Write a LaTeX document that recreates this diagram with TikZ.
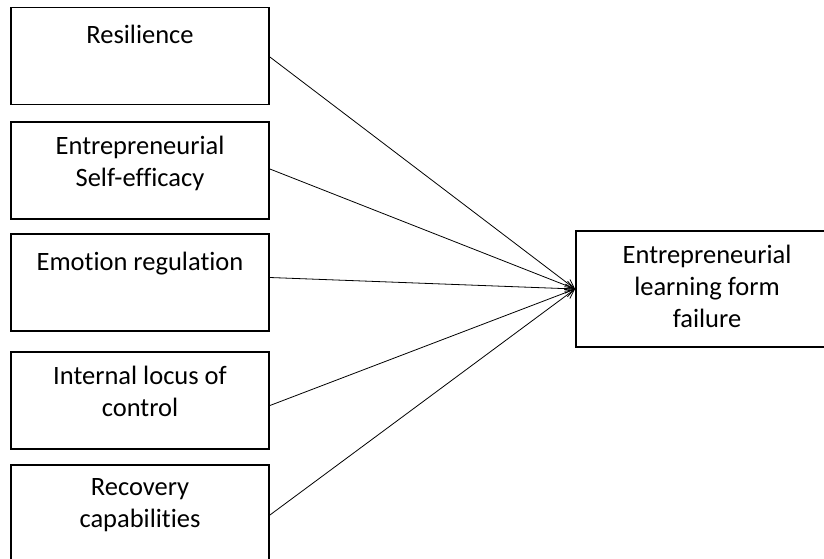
\documentclass[tikz,border=0pt]{standalone}
\usepackage{fontspec}
\setmainfont{Carlito}[Ligatures=NoCommon]
\usetikzlibrary{arrows.meta, positioning}

\begin{document}
\begin{tikzpicture}[
    x=1pt, y=-1pt,
    every node/.style={font=\fontsize{26.5}{32}\selectfont},
    arr/.style={-{Straight Barb[length=9pt, width=9pt]}, line width=0.8pt, color=black},
    box/.style={rectangle, draw=black, line width=1.8pt, inner sep=0pt},
    txt/.style={anchor=north, align=center, inner sep=0pt, execute at begin node=\strut},
]
\useasboundingbox (0,0) rectangle (824,558);
\clip (0,0) rectangle (824,558);

% ================================================================ left: five factors
\foreach \i/\y/\t in {1/56/{Resilience},
                      2/170.5/{Entrepreneurial\\Self-efficacy},
                      3/282.5/{Emotion regulation},
                      4/400.5/{Internal locus of\\control},
                      5/513.5/{Recovery\\capabilities}}{
    \node[box, minimum width=258pt, minimum height=97pt] (f\i) at (140,\y) {};
    \node[txt] (t\i) at ([yshift=-14.5pt]f\i.north) {\t};
}

% ================================================================ right: outcome
\node[box, minimum width=262pt, minimum height=116pt] (elf) at (707,289) {};
\node[txt] (telf) at ([yshift=-14.5pt]elf.north) {Entrepreneurial\\learning form\\failure};

% ================================================================ arrows
\foreach \i/\s in {1/-1, 2/1.5, 3/5, 4/-5, 5/-1.5}{
    \draw[arr] ([yshift=\s pt]f\i.east) -- (elf.west);
}

\end{tikzpicture}
\end{document}
